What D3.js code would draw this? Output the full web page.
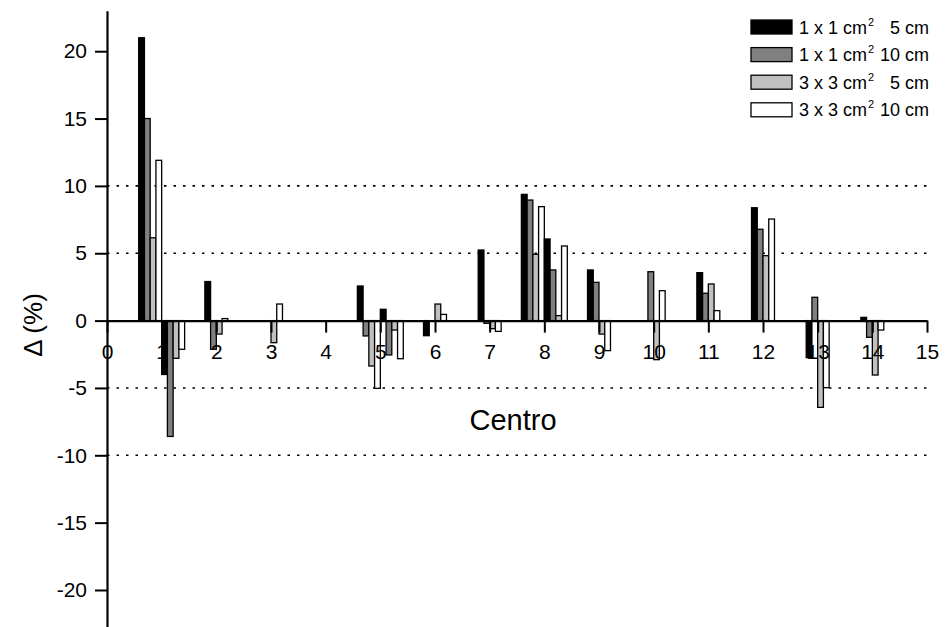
<!DOCTYPE html>
<html>
<head>
<meta charset="utf-8">
<script src="https://cdn.jsdelivr.net/npm/d3@7"></script>
<style>
  html, body { margin: 0; padding: 0; background: #fff; }
  svg { display: block; font-family: "Liberation Sans", Arial, sans-serif; }
</style>
</head>
<body>
<svg id="chart" width="945" height="627"></svg>
<script>
// ---- data ----
const groupX = [0.79, 1.21, 2, 3, 4.79, 5.21, 6, 7, 7.79, 8.21, 9, 10, 11, 12, 13, 14];
const seriesNames = ["1 x 1 cm|2|5 cm", "1 x 1 cm|2|10 cm", "3 x 3 cm|2|5 cm", "3 x 3 cm|2|10 cm"];
const s1x1_5  = [21.0, -4.0,  2.9,  0,    2.57,  0.84, -1.12, 5.24, 9.37, 6.06,  3.76, 0,    3.56, 8.38, -2.75,  0.24];
const s1x1_10 = [15.0, -8.6, -2.13, 0,   -1.14, -2.55,  0,   -0.2,  8.95, 3.76,  2.84, 3.63, 2.03, 6.78,  1.73, -1.24];
const s3x3_5  = [6.15, -2.8, -1.0, -1.64, -3.37, -0.7,  1.23, -0.6, 4.92, 0.37, -1.0, -2.9, 2.72, 4.82, -6.44, -4.04];
const s3x3_10 = [11.9, -2.13, 0.15, 1.23, -5.03, -2.83, 0.46, -0.8, 8.46, 5.54, -2.23, 2.22, 0.74, 7.54, -4.98, -0.7];
const xTicks = d3.range(0, 16);
const yTicks = [-20, -15, -10, -5, 0, 5, 10, 15, 20];
const gridValues = [-10, -5, 5, 10];

const seriesValues = [s1x1_5, s1x1_10, s3x3_5, s3x3_10];
const fills = ["#000000", "#808080", "#c0c0c0", "#ffffff"];

// ---- scales ----
const svg = d3.select("#chart");
const x = d3.scaleLinear().domain([0, 15]).range([107, 927]);
const y = d3.scaleLinear().domain([-23, 23]).range([630.4, 10.8]);
const barW = x(0.105) - x(0);

// grid
svg.append("g").selectAll("line").data(gridValues).join("line")
  .attr("x1", x(0)).attr("x2", x(15))
  .attr("y1", d => y(d)).attr("y2", d => y(d))
  .attr("stroke", "#000").attr("stroke-width", 1.6)
  .attr("stroke-dasharray", "2.5,7");

// bars
const rows = [];
groupX.forEach((gx, gi) => {
  seriesValues.forEach((vals, si) => {
    const v = vals[gi];
    if (v === null || v === undefined) return;
    rows.push({ gx, si, v });
  });
});
svg.append("g").selectAll("rect").data(rows).join("rect")
  .attr("x", d => x(d.gx) + (d.si - 2) * barW)
  .attr("width", barW)
  .attr("y", d => y(Math.max(0, d.v)))
  .attr("height", d => Math.abs(y(d.v) - y(0)))
  .attr("fill", d => fills[d.si])
  .attr("stroke", "#000").attr("stroke-width", 1.3);

// axes
const yAxis = svg.append("g").attr("transform", `translate(${x(0)},0)`)
  .call(d3.axisLeft(y).tickValues(yTicks).tickSize(12).tickSizeOuter(0).tickPadding(8)
    .tickFormat(d => String(d)));
yAxis.select(".domain").attr("stroke-width", 2.2);
yAxis.selectAll(".tick line").attr("stroke-width", 2);
yAxis.selectAll("text").attr("font-size", 21).attr("fill", "#000")
  .attr("font-family", "Liberation Sans, Arial, sans-serif");

const xAxis = svg.append("g").attr("transform", `translate(0,${y(0)})`)
  .call(d3.axisBottom(x).tickValues(xTicks).tickSize(12).tickSizeOuter(0).tickPadding(11)
    .tickFormat(d => String(d)));
xAxis.select(".domain").attr("stroke-width", 2.2);
xAxis.selectAll(".tick line").attr("stroke-width", 2);
xAxis.selectAll("text").attr("font-size", 21).attr("fill", "#000")
  .attr("font-family", "Liberation Sans, Arial, sans-serif");

// axis titles
svg.append("text").attr("x", 513).attr("y", 430).attr("text-anchor", "middle")
  .attr("font-size", 29).text("Centro");
svg.append("text").attr("transform", "translate(42,325) rotate(-90)")
  .attr("text-anchor", "middle").attr("font-size", 26).text("Δ (%)");

// legend
const leg = svg.append("g");
seriesNames.forEach((name, i) => {
  const parts = name.split("|");
  const top = 20 + i * 27.6;
  leg.append("rect").attr("x", 751).attr("y", top).attr("width", 41).attr("height", 14)
    .attr("fill", fills[i]).attr("stroke", "#000").attr("stroke-width", 1.3);
  const t = leg.append("text").attr("x", 799).attr("y", top + 13.5).attr("font-size", 18);
  t.append("tspan").text(parts[0]);
  t.append("tspan").attr("dy", -8).attr("dx", 1).attr("font-size", 11).text(parts[1]);
  leg.append("text").attr("x", 929).attr("y", top + 13.5).attr("text-anchor", "end")
    .attr("font-size", 18).text(parts[2]);
});
</script>
</body>
</html>
